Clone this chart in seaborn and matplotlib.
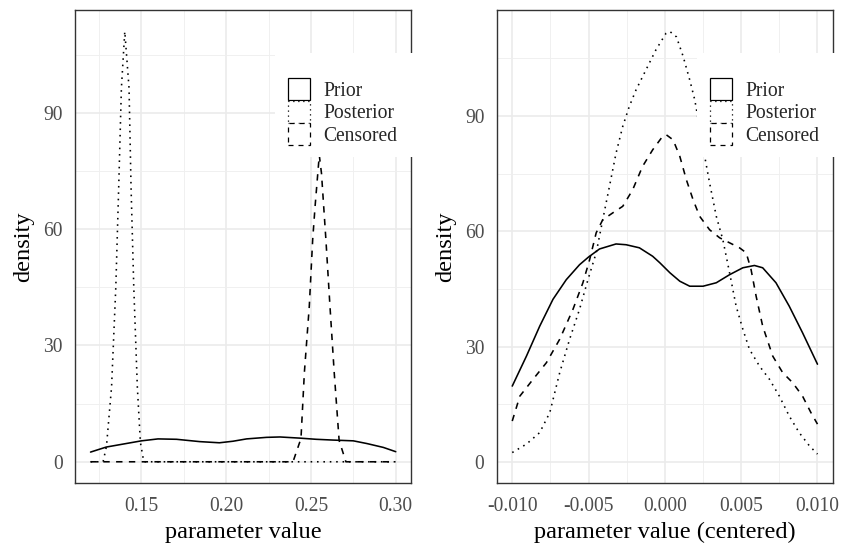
import matplotlib
matplotlib.use("Agg")
import matplotlib.pyplot as plt
import pandas as pd
import seaborn as sns
from matplotlib.patches import Patch, Rectangle

# ---------------- data ----------------
series_names = ["Prior", "Posterior", "Censored"]

# left panel: parameter value
left_prior_x = [0.120, 0.1293, 0.150, 0.1598, 0.1707, 0.1844, 0.196, 0.204, 0.212,
                0.2238, 0.2317, 0.2435, 0.253, 0.263, 0.275, 0.283, 0.2927, 0.300]
left_prior_y = [2.5, 3.8, 5.4, 5.9, 5.8, 5.2, 4.9, 5.3, 5.9,
                6.3, 6.4, 6.1, 5.8, 5.6, 5.4, 4.7, 3.7, 2.6]

left_post_x = [0.120, 0.1274, 0.1294, 0.1324, 0.1349, 0.1366, 0.1382, 0.1402,
               0.1427, 0.1439, 0.1455, 0.1476, 0.1494, 0.1514, 0.300]
left_post_y = [0.0, 0.0, 4.0, 19.3, 45.0, 70.7, 96.4, 111.0,
               96.4, 70.7, 45.0, 19.3, 5.0, 0.0, 0.0]

left_cens_x = [0.120, 0.2394, 0.2441, 0.2461, 0.2490, 0.2510, 0.2524, 0.2549,
               0.2562, 0.2588, 0.2612, 0.2637, 0.2666, 0.2706, 0.300]
left_cens_y = [0.0, 0.0, 6.0, 23.0, 40.1, 57.3, 65.8, 79.1,
               74.4, 57.3, 40.1, 23.0, 5.5, 0.0, 0.0]

# right panel: parameter value (centered)
right_prior_x = [-0.0100, -0.00907, -0.0082, -0.00733, -0.00646, -0.00559, -0.0050,
                 -0.00428, -0.0032, -0.00254, -0.00167, -0.0008, -0.00033, 0.00033,
                 0.00098, 0.00163, 0.0025, 0.00337, 0.00424, 0.00511, 0.00587,
                 0.00641, 0.00728, 0.00815, 0.00902, 0.0100]
right_prior_y = [19.7, 27.5, 35.3, 42.3, 47.4, 51.3, 53.3,
                 55.4, 56.7, 56.5, 55.7, 53.5, 51.8, 49.2,
                 47.0, 45.7, 45.7, 46.6, 48.7, 50.5, 51.1,
                 50.5, 46.6, 40.5, 33.6, 25.4]

right_post_x = [-0.0100, -0.00907, -0.0082, -0.00754, -0.00689, -0.00624, -0.00559,
                -0.00504, -0.0045, -0.00407, -0.00363, -0.0032, -0.00276, -0.00233,
                -0.00189, -0.00124, -0.00059, 0.00007, 0.00033, 0.00076, 0.0012,
                0.00163, 0.00196, 0.00261, 0.00293, 0.00337, 0.0038, 0.00424,
                0.00467, 0.00511, 0.00554, 0.0062, 0.00685, 0.0075, 0.00815,
                0.0088, 0.00946, 0.0100]
right_post_y = [2.4, 4.6, 7.6, 12.8, 23.2, 31.9, 39.7,
                47.4, 54.4, 63.0, 71.7, 80.3, 87.3, 92.5,
                96.8, 102.0, 107.2, 111.5, 112.0, 110.6, 105.5,
                99.4, 94.2, 79.5, 72.6, 63.9, 57.8, 49.2,
                40.5, 34.5, 29.3, 24.9, 21.5, 17.1, 11.9,
                7.6, 4.2, 2.0]

right_cens_x = [-0.0100, -0.0095, -0.00863, -0.00776, -0.00689, -0.00602, -0.00537,
                -0.00493, -0.0045, -0.00407, -0.00341, -0.00276, -0.00211, -0.00146,
                -0.0008, -0.00015, 0.0001, 0.00054, 0.00098, 0.00141, 0.00185,
                0.00228, 0.00293, 0.00359, 0.00424, 0.00489, 0.00533, 0.00565,
                0.00598, 0.00641, 0.00707, 0.00772, 0.00837, 0.00902, 0.00957, 0.0100]
right_cens_y = [10.6, 17.1, 21.5, 25.8, 31.9, 39.7, 46.6,
                52.6, 59.6, 63.0, 64.8, 66.5, 70.8, 76.9,
                81.2, 84.7, 85.1, 83.8, 79.5, 73.4, 68.2,
                63.9, 60.4, 58.3, 57.0, 55.7, 54.4, 50.0,
                43.1, 35.3, 27.5, 23.2, 20.6, 17.1, 12.8, 9.8]

left_xticks = [0.15, 0.20, 0.25, 0.30]
left_xticklabels = ["0.15", "0.20", "0.25", "0.30"]
left_xminor = [0.125, 0.175, 0.225, 0.275]
right_xticks = [-0.010, -0.005, 0.000, 0.005, 0.010]
right_xticklabels = ["-0.010", "-0.005", "0.000", "0.005", "0.010"]
right_xminor = [-0.0075, -0.0025, 0.0025, 0.0075]
yticks = [0, 30, 60, 90]
yticklabels = ["0", "30", "60", "90"]
yminor = [15, 45, 75, 105]

x_titles = ["parameter value", "parameter value (centered)"]
y_title = "density"


def long_frame(xs_list, ys_list):
    parts = []
    for name, xs, ys in zip(series_names, xs_list, ys_list):
        parts.append(pd.DataFrame({"x": xs, "density": ys, "series": name}))
    return pd.concat(parts, ignore_index=True)


df_left = long_frame([left_prior_x, left_post_x, left_cens_x],
                     [left_prior_y, left_post_y, left_cens_y])
df_right = long_frame([right_prior_x, right_post_x, right_cens_x],
                      [right_prior_y, right_post_y, right_cens_y])

# ---------------- style ----------------
sns.set_style("white")
plt.rcParams["font.family"] = ["Liberation Serif", "DejaVu Serif"]

SMALL = 14.1
BIG = 17.6
LW = 1.15
dash_map = {"Prior": "", "Posterior": (1, 3), "Censored": (4, 4)}
key_ls = {"Prior": "-", "Posterior": (0, (1, 3)), "Censored": (0, (4, 4))}

fig, axes = plt.subplots(1, 2, figsize=(8.42, 5.44), dpi=100)
fig.subplots_adjust(left=0.0894, right=0.989, bottom=0.1116, top=0.9816, wspace=0.256)

panels = [
    (axes[0], df_left, left_xticks, left_xticklabels, left_xminor),
    (axes[1], df_right, right_xticks, right_xticklabels, right_xminor),
]

for i, (ax, df, xt, xtl, xmin) in enumerate(panels):
    sns.lineplot(data=df, x="x", y="density", style="series", style_order=series_names,
                 dashes=dash_map, color="black", linewidth=LW, estimator=None,
                 sort=False, legend=False, ax=ax)
    xmin_d, xmax_d = df["x"].min(), df["x"].max()
    xr = xmax_d - xmin_d
    ax.set_xlim(xmin_d - 0.05 * xr, xmax_d + 0.05 * xr)
    ymax = df["density"].max()
    ax.set_ylim(-0.05 * ymax, 1.05 * ymax)

    ax.set_xticks(xt)
    ax.set_xticklabels(xtl)
    ax.set_xticks(xmin, minor=True)
    ax.set_yticks(yticks)
    ax.set_yticklabels(yticklabels)
    ax.set_yticks(yminor, minor=True)

    ax.set_axisbelow(True)
    ax.grid(which="major", color="#EBEBEB", linewidth=1.2)
    ax.grid(which="minor", color="#EFEFEF", linewidth=0.65)

    for sp in ax.spines.values():
        sp.set_color("#333333")
        sp.set_linewidth(1.0)
        sp.set_visible(True)

    ax.tick_params(which="major", direction="out", length=5, width=1.0,
                   color="#333333", labelcolor="#4D4D4D", labelsize=SMALL)
    ax.tick_params(axis="x", which="major", pad=5.0)
    ax.tick_params(axis="y", which="major", pad=4.0)
    ax.tick_params(which="minor", length=0)

    ax.set_xlabel(x_titles[i], fontsize=BIG, color="black", labelpad=4.0)
    ax.set_ylabel(y_title, fontsize=BIG, color="black", labelpad=6.5)

    # legend background (white box overlapping the panel border)
    ax.add_patch(Rectangle((0.595, 0.689), 0.417, 0.221, transform=ax.transAxes,
                           facecolor="white", edgecolor="none", clip_on=False, zorder=3))
    handles = [Patch(facecolor="white", edgecolor="black", linewidth=0.9,
                     linestyle=key_ls[n]) for n in series_names]
    leg = ax.legend(handles, series_names, loc="upper left",
                    bbox_to_anchor=(0.634, 0.856), frameon=False, borderpad=0,
                    borderaxespad=0, labelspacing=0, handlelength=1.13,
                    handleheight=1.362, handletextpad=0.68, fontsize=SMALL)
    leg.set_zorder(5)

fig.savefig("out.png", dpi=100)
